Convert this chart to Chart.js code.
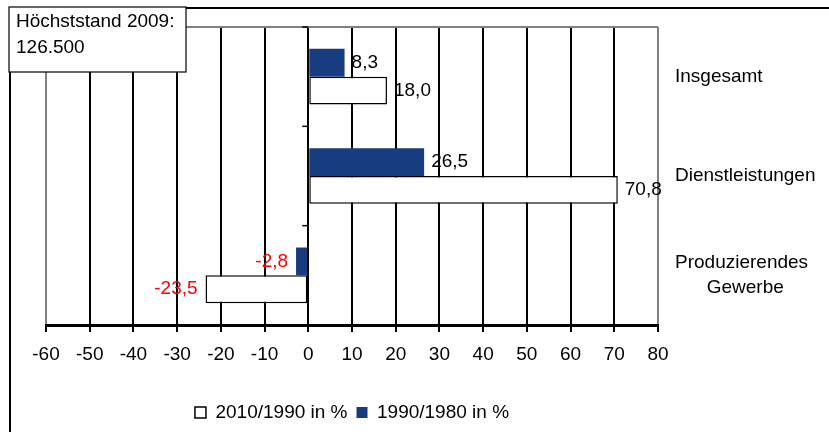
<!DOCTYPE html>
<html>
<head>
<meta charset="utf-8">
<script src="https://cdn.jsdelivr.net/npm/chart.js@4"></script>
<style>
  html, body { margin: 0; padding: 0; background: #fff; }
  #wrap { position: relative; width: 829px; height: 432px; }
</style>
</head>
<body>
<div id="wrap"><canvas id="chart" width="829" height="432"></canvas></div>
<script>
// data
const categories = ["Insgesamt", "Dienstleistungen", ["Produzierendes", "      Gewerbe"]];
const change1990_1980 = [8.3, 26.5, -2.8];
const change2010_1990 = [18.0, 70.8, -23.5];
const seriesNames = ["1990/1980 in %", "2010/1990 in %"];
const xTicks = { min: -60, max: 80, step: 10 };
const noteLines = ["Höchststand 2009:", "126.500"];

const FONT = "'Liberation Sans', Arial, sans-serif";
const FSIZE = 19;
const BLUE = "#173c80";

const fmt = (v) => v.toFixed(1).replace(".", ",");

// outer frame, plot border, little category ticks at zero, value labels, note box
const extras = {
  id: "extras",
  afterDraw(chart) {
    const { ctx, chartArea, scales } = chart;
    const x = scales.x, y = scales.y;
    ctx.save();

    // plot area top border (grey)
    ctx.strokeStyle = "#808080";
    ctx.lineWidth = 2;
    ctx.beginPath();
    ctx.moveTo(chartArea.left, chartArea.top);
    ctx.lineTo(chartArea.right, chartArea.top);
    ctx.stroke();

    // category boundary ticks left of zero line
    const x0 = x.getPixelForValue(0);
    ctx.strokeStyle = "#000";
    ctx.lineWidth = 1.5;
    for (let i = 0; i <= categories.length; i++) {
      const py = y.getPixelForValue(i - 0.5);
      ctx.beginPath();
      ctx.moveTo(x0 - 6, py);
      ctx.lineTo(x0, py);
      ctx.stroke();
    }

    // value labels
    ctx.font = FSIZE + "px " + FONT;
    ctx.textBaseline = "middle";
    chart.data.datasets.forEach((ds, di) => {
      chart.getDatasetMeta(di).data.forEach((bar, i) => {
        const v = ds.data[i];
        if (v < 0) {
          ctx.fillStyle = "#ff0000";
          ctx.textAlign = "right";
          ctx.fillText(fmt(v), bar.x - 8, bar.y);
        } else {
          ctx.fillStyle = "#000";
          ctx.textAlign = "left";
          ctx.fillText(fmt(v), bar.x + 7, bar.y);
        }
      });
    });

    // outer frame
    ctx.strokeStyle = "#000";
    ctx.lineWidth = 2;
    ctx.beginPath();
    ctx.moveTo(10, 432);
    ctx.lineTo(10, 8);
    ctx.lineTo(829, 8);
    ctx.stroke();

    // note box
    ctx.fillStyle = "#fff";
    ctx.fillRect(9, 7, 177, 65);
    ctx.lineWidth = 1.2;
    ctx.strokeRect(9, 7, 177, 65);
    ctx.fillStyle = "#000";
    ctx.textAlign = "left";
    ctx.fillText(noteLines[0], 16, 22);
    ctx.fillText(noteLines[1], 16, 48);

    ctx.restore();
  }
};

new Chart(document.getElementById("chart"), {
  type: "bar",
  data: {
    labels: categories,
    datasets: [
      {
        label: seriesNames[0],
        data: change1990_1980,
        backgroundColor: BLUE,
        borderColor: BLUE,
        borderWidth: 0
      },
      {
        label: seriesNames[1],
        data: change2010_1990,
        backgroundColor: "#ffffff",
        borderColor: "#000000",
        borderWidth: 1.5,
        borderSkipped: false
      }
    ]
  },
  options: {
    indexAxis: "y",
    responsive: false,
    animation: false,
    layout: { padding: { left: 46, right: 0, top: 27, bottom: 0 } },
    categoryPercentage: 0.56,
    barPercentage: 1.0,
    scales: {
      x: {
        min: xTicks.min,
        max: xTicks.max,
        ticks: {
          stepSize: xTicks.step,
          color: "#000",
          padding: 11,
          font: { family: FONT, size: FSIZE }
        },
        grid: {
          color: (c) => (c.tick && (c.tick.value === xTicks.min || c.tick.value === xTicks.max)) ? "#808080" : "#000",
          lineWidth: 2,
          tickColor: "#000",
          tickLength: 7
        },
        border: { display: true, color: "#000", width: 3 },
        afterFit(scale) { scale.height = 69; }
      },
      y: {
        position: "right",
        grid: { display: false, drawTicks: false },
        border: { display: false },
        ticks: {
          color: "#000",
          padding: 17,
          font: { family: FONT, size: FSIZE, lineHeight: 1.35 }
        },
        afterFit(scale) {
          scale.width = 171;
          scale.paddingTop = 0;
          scale.paddingBottom = 0;
        }
      }
    },
    plugins: {
      legend: {
        position: "bottom",
        fullSize: false,
        reverse: true,
        labels: {
          color: "#000",
          boxWidth: 11,
          boxHeight: 11,
          padding: 9,
          font: { family: FONT, size: FSIZE }
        }
      },
      tooltip: { enabled: false }
    }
  },
  plugins: [extras]
});
</script>
</body>
</html>
